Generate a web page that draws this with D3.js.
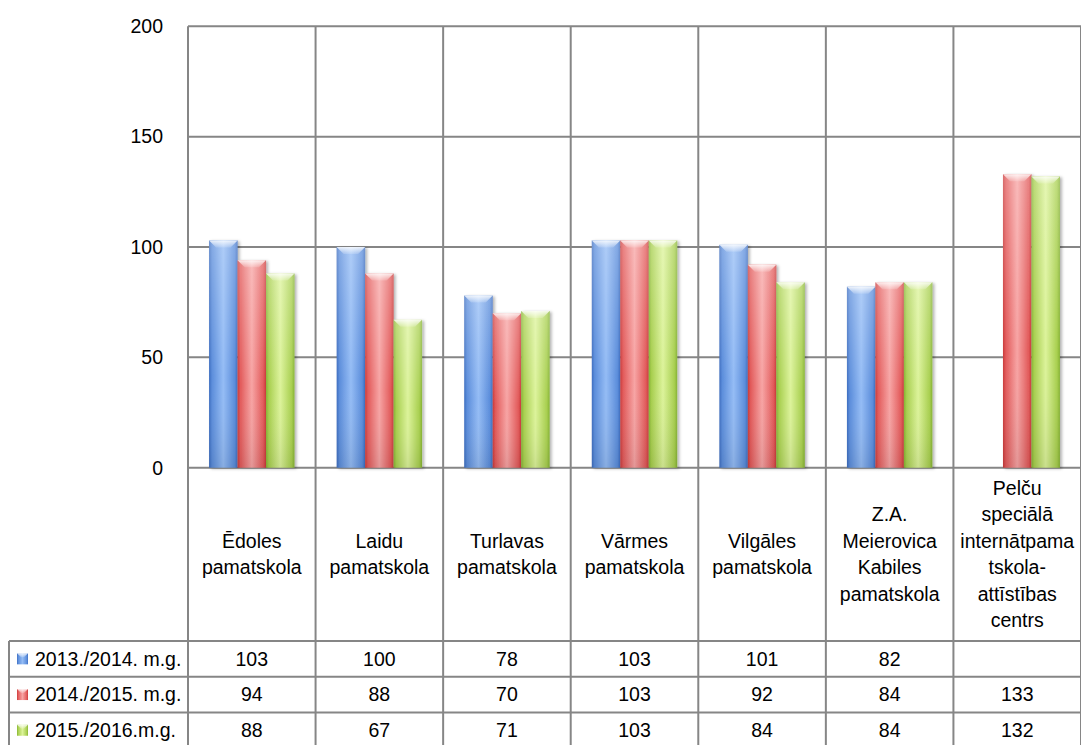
<!DOCTYPE html>
<html>
<head>
<meta charset="utf-8">
<script src="https://cdn.jsdelivr.net/npm/d3@7"></script>
<style>
  body { margin: 0; background: #fff; }
  svg { display: block; font-family: "Liberation Sans", Arial, sans-serif; }
</style>
</head>
<body>
<svg id="chart" width="1081" height="745"></svg>
<script>
// chart data
var categories = [
  "Ēdoles\npamatskola",
  "Laidu\npamatskola",
  "Turlavas\npamatskola",
  "Vārmes\npamatskola",
  "Vilgāles\npamatskola",
  "Z.A.\nMeierovica\nKabiles\npamatskola",
  "Pelču\nspeciālā\ninternātpama\ntskola-\nattīstības\ncentrs"
];
var seriesNames = ["2013./2014. m.g.", "2014./2015. m.g.", "2015./2016.m.g."];
var values2013 = [103, 100, 78, 103, 101, 82, null];
var values2014 = [94, 88, 70, 103, 92, 84, 133];
var values2015 = [88, 67, 71, 103, 84, 84, 132];
var yTicks = [0, 50, 100, 150, 200];

var seriesValues = [values2013, values2014, values2015];

var svg = d3.select("#chart");
var plotLeft = 188, plotRight = 1081, plotTop = 26.3, plotBottom = 467.7;
var labelBottom = 641, rowH = 35.7;
var tableLeft = 9;
var gridColor = "#868686";
var fontSize = "19.5px";

var palette = [
  { dark: "#3c6cbf", mid: "#5b8ddb", light: "#94bcf5" },
  { dark: "#c93a3a", mid: "#e25a5a", light: "#f7a4a4" },
  { dark: "#85b233", mid: "#a8cf4f", light: "#dcf39a" }
];

var y = d3.scaleLinear().domain([0, 200]).range([plotBottom, plotTop]);
var x = d3.scaleBand().domain(d3.range(categories.length)).range([plotLeft, plotRight]).padding(0);
var xs = d3.scaleBand().domain(d3.range(seriesNames.length)).range([0, x.bandwidth()])
  .paddingInner(0).paddingOuter(0.74);

// gradients
var defs = svg.append("defs");
palette.forEach(function(c, i) {
  var g = defs.append("linearGradient").attr("id", "grad" + i)
    .attr("x1", "0").attr("x2", "1").attr("y1", "0").attr("y2", "0");
  g.append("stop").attr("offset", "0").attr("stop-color", c.dark);
  g.append("stop").attr("offset", "0.1").attr("stop-color", c.mid);
  g.append("stop").attr("offset", "0.5").attr("stop-color", c.light);
  g.append("stop").attr("offset", "0.9").attr("stop-color", c.mid);
  g.append("stop").attr("offset", "1").attr("stop-color", c.dark);
});
var bev = defs.append("linearGradient").attr("id", "bevel")
  .attr("x1", "0").attr("x2", "0").attr("y1", "0").attr("y2", "1");
bev.append("stop").attr("offset", "0").attr("stop-color", "#fff").attr("stop-opacity", 0.85);
bev.append("stop").attr("offset", "1").attr("stop-color", "#fff").attr("stop-opacity", 0.15);
var shade = defs.append("linearGradient").attr("id", "shade")
  .attr("x1", "0").attr("x2", "0").attr("y1", "0").attr("y2", "1");
shade.append("stop").attr("offset", "0").attr("stop-color", "#fff").attr("stop-opacity", 0.25);
shade.append("stop").attr("offset", "0.6").attr("stop-color", "#fff").attr("stop-opacity", 0);
shade.append("stop").attr("offset", "1").attr("stop-color", "#000").attr("stop-opacity", 0.08);
var f = defs.append("filter").attr("id", "shadow").attr("x", "-20%").attr("y", "-5%")
  .attr("width", "150%").attr("height", "115%");
f.append("feDropShadow").attr("dx", 2).attr("dy", 1).attr("stdDeviation", 1.5)
  .attr("flood-color", "#000").attr("flood-opacity", 0.3);

// grid lines
svg.append("g").selectAll("line").data(yTicks).enter().append("line")
  .attr("x1", plotLeft).attr("x2", plotRight)
  .attr("y1", function(d) { return y(d); }).attr("y2", function(d) { return y(d); })
  .attr("stroke", gridColor).attr("stroke-width", 2);

// vertical lines through plot, labels and table
svg.append("g").selectAll("line").data(d3.range(categories.length + 1)).enter().append("line")
  .attr("x1", function(i) { return plotLeft + i * x.step(); })
  .attr("x2", function(i) { return plotLeft + i * x.step(); })
  .attr("y1", plotTop).attr("y2", 745)
  .attr("stroke", gridColor).attr("stroke-width", 2);

// table horizontal lines
svg.append("g").selectAll("line").data(d3.range(seriesNames.length + 1)).enter().append("line")
  .attr("x1", tableLeft).attr("x2", plotRight)
  .attr("y1", function(i) { return labelBottom + i * rowH; })
  .attr("y2", function(i) { return labelBottom + i * rowH; })
  .attr("stroke", gridColor).attr("stroke-width", 2);
svg.append("line").attr("x1", tableLeft).attr("x2", tableLeft)
  .attr("y1", labelBottom).attr("y2", 745)
  .attr("stroke", gridColor).attr("stroke-width", 2);

// y axis labels
svg.append("g").selectAll("text").data(yTicks).enter().append("text")
  .attr("x", 163).attr("y", function(d) { return y(d); })
  .attr("dy", "0.35em").attr("text-anchor", "end")
  .style("font-size", fontSize).attr("fill", "#000")
  .text(function(d) { return d; });

// bars
seriesValues.forEach(function(vals, s) {
  var g = svg.append("g").attr("class", "series" + s);
  var data = vals.map(function(v, i) { return { i: i, v: v }; })
    .filter(function(d) { return d.v != null; });
  var bars = g.selectAll("g").data(data).enter().append("g");
  bars.append("rect")
    .attr("x", function(d) { return x(d.i) + xs(s); })
    .attr("y", function(d) { return y(d.v); })
    .attr("width", xs.bandwidth())
    .attr("height", function(d) { return y(0) - y(d.v); })
    .attr("fill", "url(#grad" + s + ")")
    .attr("filter", "url(#shadow)");
  bars.append("rect")
    .attr("x", function(d) { return x(d.i) + xs(s); })
    .attr("y", function(d) { return y(d.v); })
    .attr("width", xs.bandwidth())
    .attr("height", function(d) { return y(0) - y(d.v); })
    .attr("fill", "url(#shade)");
  bars.append("path")
    .attr("d", function(d) {
      var x0 = x(d.i) + xs(s), x1 = x0 + xs.bandwidth(), y0 = y(d.v), b = 7;
      return "M" + x0 + "," + y0 + "L" + x1 + "," + y0 + "L" + (x1 - b) + "," + (y0 + b) +
        "L" + (x0 + b) + "," + (y0 + b) + "Z";
    })
    .attr("fill", "url(#bevel)");
});

// category labels
var lineH = 26.5;
var mid = (plotBottom + labelBottom) / 2;
categories.forEach(function(c, i) {
  var lines = c.split("\n");
  var t = svg.append("text")
    .attr("text-anchor", "middle")
    .style("font-size", fontSize).attr("fill", "#000");
  lines.forEach(function(l, k) {
    t.append("tspan")
      .attr("x", x(i) + x.bandwidth() / 2)
      .attr("y", mid + (k - (lines.length - 1) / 2) * lineH)
      .attr("dy", "0.35em")
      .text(l);
  });
});

// data table
seriesNames.forEach(function(name, s) {
  var cy = labelBottom + s * rowH + rowH / 2;
  svg.append("rect")
    .attr("x", 17).attr("y", cy - 5.5).attr("width", 11).attr("height", 11)
    .attr("fill", "url(#grad" + s + ")");
  svg.append("path")
    .attr("d", "M17," + (cy - 5.5) + "L28," + (cy - 5.5) + "L24," + (cy - 1.5) + "L21," + (cy - 1.5) + "Z")
    .attr("fill", "url(#bevel)");
  svg.append("text")
    .attr("x", 35).attr("y", cy).attr("dy", "0.35em")
    .style("font-size", fontSize).attr("fill", "#000")
    .text(name);
  svg.append("g").selectAll("text").data(seriesValues[s]).enter().append("text")
    .attr("x", function(d, i) { return x(i) + x.bandwidth() / 2; })
    .attr("y", cy).attr("dy", "0.35em")
    .attr("text-anchor", "middle")
    .style("font-size", fontSize).attr("fill", "#000")
    .text(function(d) { return d == null ? "" : d; });
});
</script>
</body>
</html>
